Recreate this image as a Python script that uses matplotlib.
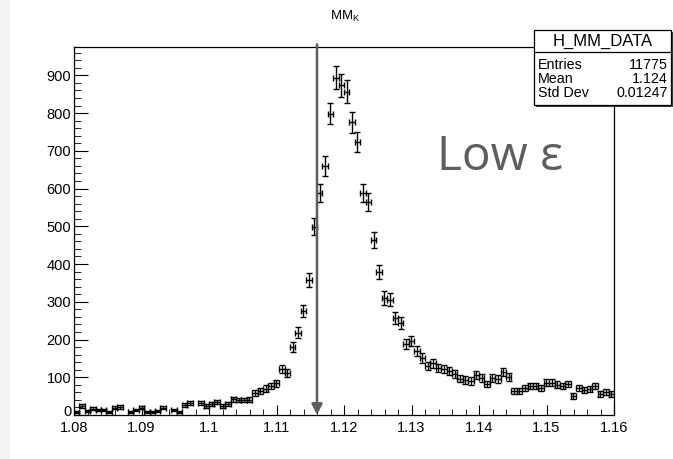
import numpy as np
import matplotlib
matplotlib.use('Agg')
import matplotlib.pyplot as plt
import matplotlib.transforms as mtrans
from matplotlib.patches import Rectangle

plt.rcParams['font.family'] = ['Liberation Sans', 'DejaVu Sans']
plt.rcParams['mathtext.fontset'] = 'custom'
plt.rcParams['mathtext.rm'] = 'Liberation Sans'

# histogram: 100 bins from 1.08 to 1.16
x_lo, x_hi, n_bins = 1.08, 1.16, 100
counts = [
    8, 24, 11, 16, 13, 13, 8, 19, 21, 0,
    8, 13, 19, 8, 8, 11, 19, 0, 13, 8,
    26, 32, 0, 32, 24, 29, 34, 24, 29, 42,
    40, 40, 41, 58, 64, 70, 77, 84, 122, 111,
    179, 218, 276, 358, 499, 589, 660, 798, 894, 873,
    857, 775, 724, 589, 565, 464, 379, 310, 305, 257,
    244, 188, 196, 170, 151, 130, 137, 125, 122, 117,
    108, 96, 93, 90, 106, 98, 82, 98, 95, 114,
    101, 64, 64, 72, 77, 77, 72, 85, 85, 80,
    77, 82, 50, 72, 66, 69, 77, 56, 61, 56,
]
cut_x = 1.116
stats_rows = [('Entries', '11775'), ('Mean', '1.124'), ('Std Dev', '0.01247')]

W, H = 673, 459
fig = plt.figure(figsize=(W / 100, H / 100), dpi=100)
ax = fig.add_axes([74 / W, 1 - 415 / H, 540 / W, 368 / H])

edges = np.linspace(x_lo, x_hi, n_bins + 1)
centers = 0.5 * (edges[:-1] + edges[1:])
y = np.array(counts, dtype=float)
m = y > 0
half = 0.5 * (x_hi - x_lo) / n_bins
ax.errorbar(centers[m], y[m], yerr=np.sqrt(y[m]), xerr=half, fmt='none',
            ecolor='black', elinewidth=1.0, capsize=2.5, capthick=1.0)

ax.set_xlim(x_lo, x_hi)
ax.set_ylim(0, 975)
ax.set_xticks(np.arange(1.08, 1.1601, 0.01))
ax.set_xticklabels(['1.08', '1.09', '1.1', '1.11', '1.12', '1.13', '1.14', '1.15', '1.16'])
ax.set_xticks(np.arange(1.08, 1.1601, 0.002), minor=True)
ax.set_yticks(np.arange(0, 901, 100))
ax.set_yticks(np.arange(0, 975, 20), minor=True)
ax.tick_params(axis='both', which='both', direction='in', top=False, right=False,
               labelsize=10.5, colors='black')
ax.tick_params(axis='y', which='major', length=10, pad=2)
ax.tick_params(axis='y', which='minor', length=5)
ax.tick_params(axis='x', which='major', length=7, pad=4)
ax.tick_params(axis='x', which='minor', length=4)
for s in ax.spines.values():
    s.set_linewidth(0.9)

# nudge the "0" label up a little, like ROOT does
lab0 = ax.get_yticklabels()[0]
lab0.set_transform(lab0.get_transform() + mtrans.ScaledTranslation(0, 3 / 72, fig.dpi_scale_trans))

# cut arrow
ax.annotate('', xy=(cut_x, 0), xytext=(cut_x, 982), annotation_clip=False,
            arrowprops=dict(arrowstyle='-|>', color='#5e5e5e', lw=1.8,
                            mutation_scale=16, shrinkA=0, shrinkB=0))

ax.text(0.906, 0.70, 'Low \u03b5', transform=ax.transAxes, ha='right', va='center',
        fontsize=34.5, color='#5e5e5e', family=['Open Sans', 'DejaVu Sans'])

fig.text(345 / W, 1 - 16 / H, r'MM$_\mathregular{K}$', ha='center', va='center', fontsize=9.5)

# stats box
bx0, bx1, by0, by1, hdr = 534, 671, 30, 105, 52
fig.patches.append(Rectangle((bx0 / W + 1.5 / W, 1 - by1 / H - 1.5 / H), (bx1 - bx0) / W, (by1 - by0) / H,
                             transform=fig.transFigure, facecolor='#404040', edgecolor='none', zorder=5))
fig.patches.append(Rectangle((bx0 / W, 1 - by1 / H), (bx1 - bx0) / W, (by1 - by0) / H,
                             transform=fig.transFigure, facecolor='white', edgecolor='black',
                             lw=0.9, zorder=6))
fig.lines.append(plt.Line2D([bx0 / W, bx1 / W], [1 - hdr / H, 1 - hdr / H],
                            transform=fig.transFigure, color='black', lw=0.9, zorder=7))
fig.text((bx0 + bx1) / 2 / W, 1 - 41 / H, 'H_MM_DATA', ha='center', va='center',
         fontsize=12, zorder=8)
for k, (lab, val) in enumerate(stats_rows):
    yy = 1 - (65 + 14 * k) / H
    fig.text((bx0 + 4) / W, yy, lab, ha='left', va='center', fontsize=10.3, zorder=8)
    fig.text((bx1 - 3) / W, yy, val, ha='right', va='center', fontsize=10.3, zorder=8)

# light screenshot border on the left
fig.patches.append(Rectangle((0, 0), 10 / W, 1, transform=fig.transFigure,
                             facecolor='#f4f4f4', edgecolor='none', zorder=0))

fig.savefig('out.png', dpi=100)
